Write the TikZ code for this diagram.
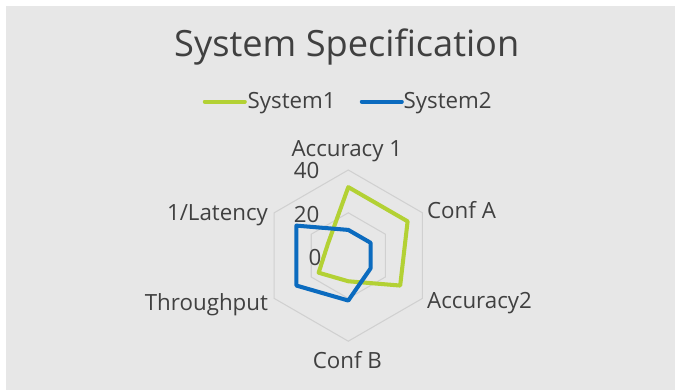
\documentclass[tikz,border=0pt]{standalone}
\usepackage{fontspec}
\setmainfont{Open Sans}
\definecolor{panelgray}{HTML}{E7E7E7}
\definecolor{textgray}{HTML}{404040}
\definecolor{gridgray}{HTML}{D0D0D0}
\definecolor{sysone}{HTML}{B3D134}
\definecolor{systwo}{HTML}{0B6BBF}
\tikzset{
  axislabel/.style={text=textgray, font=\fontsize{12.7}{15}\selectfont, inner sep=0pt},
  ticklabel/.style={axislabel, anchor=base east},
  series/.style={line width=2.3pt, line join=round},
}
\begin{document}
\begin{tikzpicture}
\useasboundingbox (-6.966,-2.688) rectangle (6.534,5.112);
\fill[panelgray] (-6.846,-2.688) rectangle (6.534,4.992);

% title and legend
\node[axislabel, anchor=base, font=\fontsize{20.6}{24}\selectfont] (title) at (-0.03,3.99) {System Specification};
\node[axislabel, anchor=base west] (leg1) at (-2.02,2.95) {System1};
\node[axislabel, anchor=base west] (leg2) at (1.10,2.95) {System2};
\coordinate (leg1start) at (-2.87,3.08);
\coordinate (leg1end) at (-2.07,3.08);
\coordinate (leg2start) at (0.27,3.08);
\coordinate (leg2end) at (1.07,3.08);
\draw[series, sysone, line cap=round] (leg1start) -- (leg1end);
\draw[series, systwo, line cap=round] (leg2start) -- (leg2end);

% grid, 1 unit = 0.0428cm
\begin{scope}[x=0.0428cm, y=0.0428cm]
\draw[gridgray, line width=0.6pt] (90:20) -- (30:20) -- (-30:20) -- (-90:20) -- (-150:20) -- (150:20) -- cycle;
\draw[gridgray, line width=0.6pt] (90:40) -- (30:40) -- (-30:40) -- (-90:40) -- (-150:40) -- (150:40) -- cycle;

\draw[series, sysone] (90:32) -- (30:32) -- (-30:28) -- (-90:12) -- (-150:16) -- (150:11) -- cycle;
\draw[series, systwo] (90:12) -- (30:12) -- (-30:12) -- (-90:21) -- (-150:28) -- (150:28) -- cycle;
\end{scope}

% axis labels
\node[axislabel, anchor=base] (acc1) at (-0.03,1.98) {Accuracy 1};
\node[axislabel, anchor=base west] (confa) at (1.57,0.75) {Conf A};
\node[axislabel, anchor=base west] (acc2) at (1.57,-1.05) {Accuracy2};
\node[axislabel, anchor=base] (confb) at (-0.02,-2.25) {Conf B};
\node[axislabel, anchor=base east] (thru) at (-1.60,-1.09) {Throughput};
\node[axislabel, anchor=base east] (invlat) at (-1.60,0.71) {1/Latency};

% value labels
\node[ticklabel] (tick40) at (-0.57,1.55) {40};
\node[ticklabel] (tick20) at (-0.57,0.67) {20};
\node[ticklabel] (tick0) at (-0.53,-0.19) {0};

\end{tikzpicture}
\end{document}
